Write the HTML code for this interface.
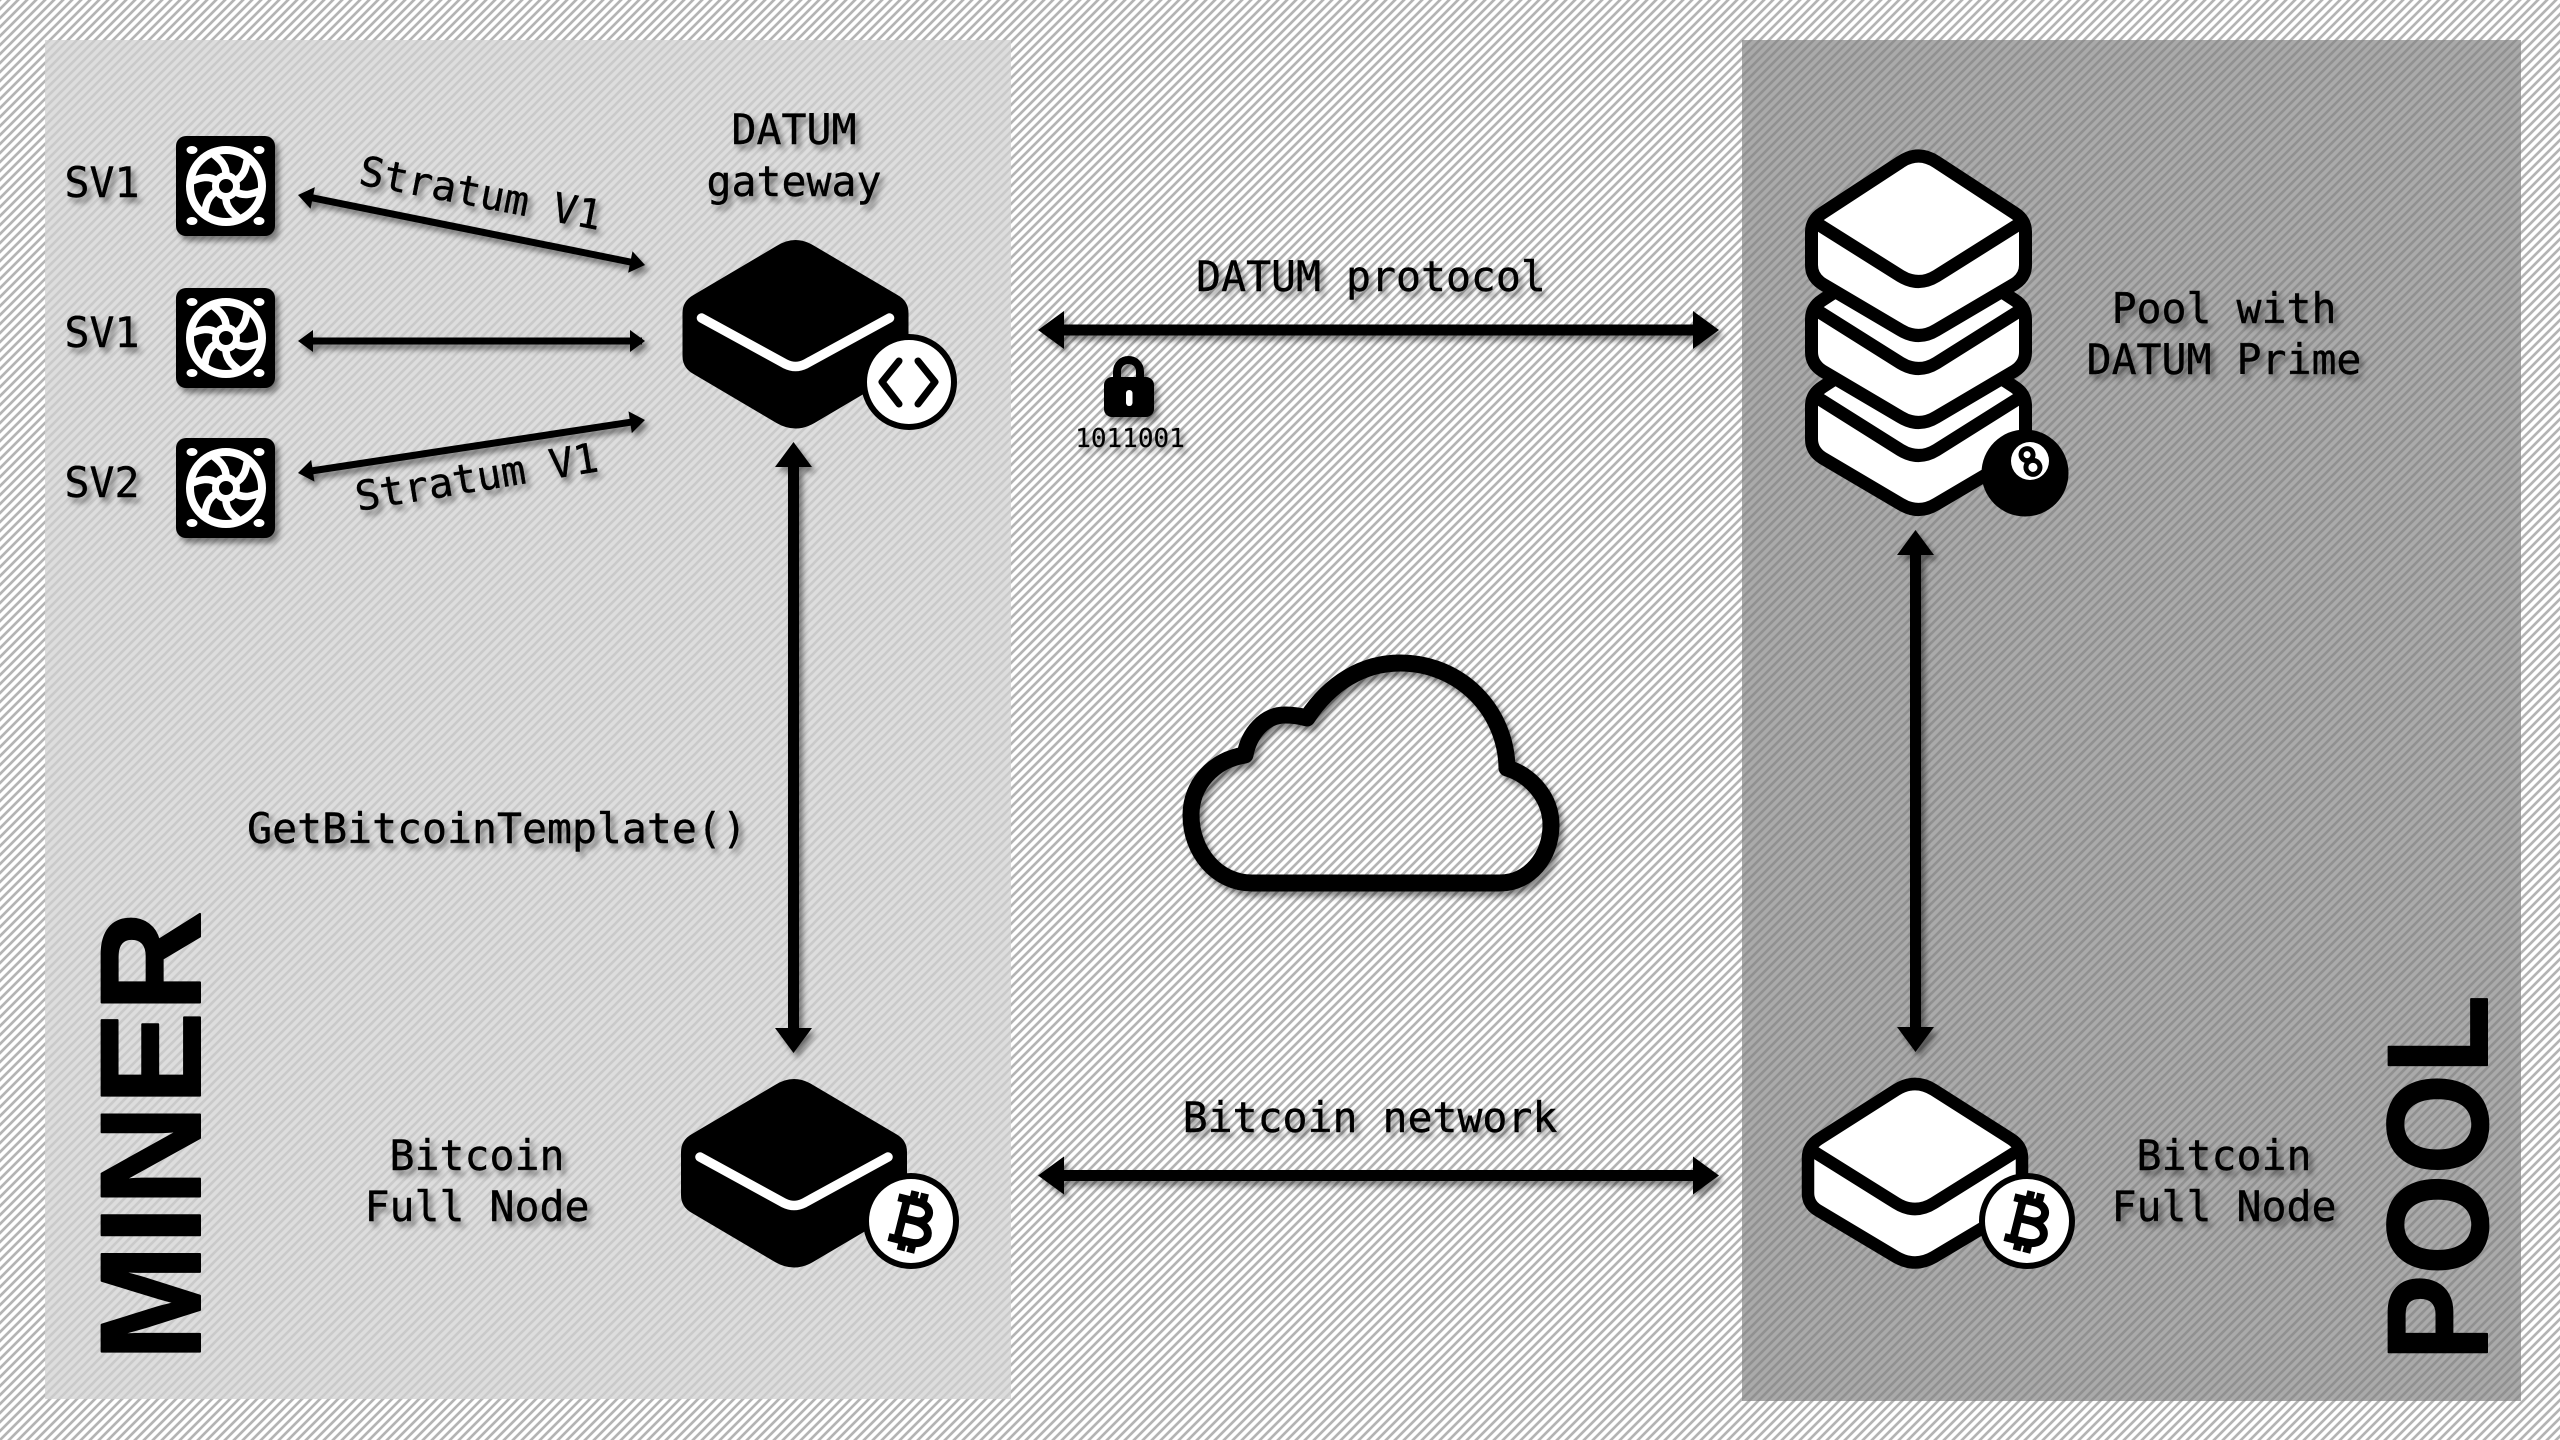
<!DOCTYPE html>
<html><head><meta charset="utf-8">
<style>
html,body{margin:0;padding:0;width:2560px;height:1440px;overflow:hidden;background:#fff}
svg{position:absolute;left:0;top:0}
text{font-family:"DejaVu Sans Mono","Liberation Mono",monospace;font-size:41.500px;fill:#000;stroke:#000;stroke-width:.4px;text-anchor:middle}
.s{filter:drop-shadow(4px 5px 3px rgba(0,0,0,.45))}
.big{font-family:"Liberation Sans",sans-serif;font-weight:bold;font-size:143px;text-anchor:start;stroke-width:2px;stroke-linejoin:round}
</style></head><body>
<svg width="2560" height="1440" viewBox="0 0 2560 1440">
<defs>
<pattern id="st" patternUnits="userSpaceOnUse" width="9" height="9">
<path d="M0 9L9 0M-3 3L3-3M6 12L12 6" stroke="#b4b4b4" stroke-width="2.700" fill="none"/>
</pattern>
<g id="fan">
<rect x="-50" y="-50" width="99" height="100" rx="10" fill="#000"/>
<g fill="#fff"><ellipse cx="-34" cy="-36" rx="5.500" ry="4"/><ellipse cx="33" cy="-36" rx="5.500" ry="4"/><ellipse cx="-34" cy="35" rx="5.500" ry="4"/><ellipse cx="33" cy="35" rx="5.500" ry="4"/></g>
<circle r="36" fill="none" stroke="#fff" stroke-width="8"/>
<g fill="none" stroke="#fff" stroke-width="7.500">
<path d="M0-10C1-22-8-28-14-33"/>
<path d="M0-10C1-22-8-28-14-33" transform="rotate(60)"/>
<path d="M0-10C1-22-8-28-14-33" transform="rotate(120)"/>
<path d="M0-10C1-22-8-28-14-33" transform="rotate(180)"/>
<path d="M0-10C1-22-8-28-14-33" transform="rotate(240)"/>
<path d="M0-10C1-22-8-28-14-33" transform="rotate(300)"/>
</g>
<circle r="10.500" fill="#000" stroke="#fff" stroke-width="7"/>
</g>
<g id="thin">
<rect x="10" y="-3.500" width="334" height="7" fill="#000"/>
</g>
<path id="solidnode" d="M775 1085Q794 1073 813 1085L896 1134Q907 1140 907 1152V1195Q907 1207 896 1213L813 1262Q794 1273 775 1262L692 1213Q681 1207 681 1195V1152Q681 1140 692 1134Z"/>
<g id="btc" fill="none" stroke="#000" stroke-width="8" transform="rotate(14)">
<path d="M-18-20H3C20-20 20-1 3-1H-9M3-1C25-1 25 21 4 21H-18M-9-20V21M-3-30V-20M7-30V-20M-3 21V31M7 21V31"/>
</g>
<path id="lay" d="M-18-58Q0-70 18-58L96-7Q107 0 107 12V45Q107 57 96 64L18 110Q0 121-18 110L-96 64Q-107 57-107 45V12Q-107 0-96-7Z" fill="#fff" stroke="#000" stroke-width="13" stroke-linejoin="round"/>
<path id="chev" d="M-107 0L-18 56Q0 67 18 56L107 0" fill="none" stroke="#000" stroke-width="13"/>
</defs>

<rect width="2560" height="1440" fill="url(#st)"/>
<rect x="45" y="40" width="966" height="1359" fill="#d2d2d2" fill-opacity=".75"/>
<rect x="1742" y="40" width="779" height="1361" fill="#808080" fill-opacity=".67"/>

<!-- fans -->
<g class="s">
<use href="#fan" x="226" y="186"/>
<use href="#fan" x="226" y="338"/>
<use href="#fan" x="226" y="488"/>
</g>
<g class="s">
<text x="102" y="197">SV1</text>
<text x="102" y="347">SV1</text>
<text x="102" y="497">SV2</text>
<text x="794" y="144">DATUM</text>
<text x="794" y="196">gateway</text>
<text x="478" y="207" transform="rotate(10.800 478 207)" style="font-size:40.800px">Stratum V1</text>
<text x="479" y="491" transform="rotate(-9.400 479 491)" style="font-size:40.800px">Stratum V1</text>
<text x="497" y="843">GetBitcoinTemplate()</text>
<text x="477" y="1170">Bitcoin</text>
<text x="477" y="1221">Full Node</text>
<text x="2224" y="1170">Bitcoin</text>
<text x="2224" y="1221">Full Node</text>
<text x="2224" y="323">Pool with</text>
<text x="2224" y="374">DATUM Prime</text>
<text x="1371" y="291">DATUM protocol</text>
<text x="1370" y="1132">Bitcoin network</text>
<text x="1130" y="447" style="font-size:26px;stroke-width:.2px">1011001</text>
</g>

<!-- arrows -->
<g class="s" fill="#000">
<g transform="translate(298 195) rotate(11.400)"><use href="#thin"/><path d="M0 0L15-11V11Z"/><path d="M354 0L339-11V11Z"/></g>
<g transform="translate(298 341)"><use href="#thin"/><path d="M0 0L15-11V11Z"/><path d="M347 0L332-11V11Z"/></g>
<g transform="translate(298 473) rotate(-8.680)"><use href="#thin"/><path d="M0 0L15-11V11Z"/><path d="M351 0L336-11V11Z"/></g>
<rect x="788" y="460" width="11" height="575"/><path d="M793.500 442L812 467H775Z"/><path d="M793.500 1053L812 1028H775Z"/>
<rect x="1910" y="550" width="11" height="485"/><path d="M1915.500 530L1934 555H1897Z"/><path d="M1915.500 1052L1934 1027H1897Z"/>
<rect x="1055" y="324.500" width="650" height="11"/><path d="M1038 330L1064 311V349Z"/><path d="M1719 330L1693 311V349Z"/>
<rect x="1055" y="1170" width="650" height="11"/><path d="M1038 1175.500L1064 1156.500V1194.500Z"/><path d="M1719 1175.500L1693 1156.500V1194.500Z"/>
</g>

<!-- lock -->
<g class="s">
<path d="M1117 385V372C1117 356 1140 356 1140 372V385" fill="none" stroke="#000" stroke-width="8"/>
<rect x="1104" y="377" width="50" height="40" rx="8" fill="#000"/>
<rect x="1126" y="390" width="6.500" height="16" rx="3.200" fill="#fff"/>
</g>

<!-- cloud -->
<path class="s" d="M1252 883C1217 883 1191 852 1191 815C1191 785 1213 760 1245 755C1249 733 1265 715 1285 715C1293 715 1300 716 1307 718C1330 683 1363 663 1400 663C1460 663 1506 710 1507 768C1530 775 1551 797 1551 825C1551 857 1529 883 1500 883Z" fill="none" stroke="#000" stroke-width="17" stroke-linejoin="round"/>

<!-- gateway -->
<g transform="translate(1.500 -839)">
<use href="#solidnode"/>
<path d="M700 1157L784 1203Q794 1208 804 1203L888 1157" fill="none" stroke="#fff" stroke-width="9.500" stroke-linecap="round"/>
</g>
<circle cx="909" cy="382" r="45" fill="#fff" stroke="#000" stroke-width="6"/>
<path d="M899 361L882 382L899 404M918 361L935 382L918 404" fill="none" stroke="#000" stroke-width="7" stroke-linecap="round" stroke-linejoin="round"/>

<!-- miner full node -->
<use href="#solidnode"/>
<path d="M700 1157L784 1203Q794 1208 804 1203L888 1157" fill="none" stroke="#fff" stroke-width="9.500" stroke-linecap="round"/>
<circle cx="911" cy="1221" r="45" fill="#fff" stroke="#000" stroke-width="6"/>
<use href="#btc" x="911" y="1221"/>

<!-- pool full node -->
<path d="M1896 1090Q1915 1078 1934 1090L2011 1139Q2022 1146 2022 1158V1193Q2022 1205 2011 1211L1934 1257Q1915 1268 1896 1257L1819 1211Q1808 1205 1808 1193V1158Q1808 1146 1819 1139Z" fill="#fff" stroke="#000" stroke-width="12.500" stroke-linejoin="round"/>
<path d="M1808 1148L1896 1203Q1915 1215 1934 1203L2022 1148" fill="none" stroke="#000" stroke-width="12.500"/>
<circle cx="2027" cy="1221" r="45" fill="#fff" stroke="#000" stroke-width="6"/>
<use href="#btc" x="2027" y="1221"/>

<!-- pool stack -->
<g transform="translate(1918.500 394)"><use href="#lay"/><use href="#chev"/></g>
<g transform="translate(1918.500 307)"><use href="#lay"/><use href="#chev"/></g>
<g transform="translate(1918.500 220)"><use href="#lay"/><use href="#chev"/></g>
<circle cx="2025" cy="473" r="43.500" fill="#000"/>
<circle cx="2030" cy="461" r="19" fill="#fff"/>
<g transform="rotate(-25 2030 461)" fill="none" stroke="#000" stroke-width="5"><circle cx="2030" cy="454" r="6"/><circle cx="2030" cy="468" r="7"/></g>

<!-- big labels -->
<text class="big" transform="translate(200 1361) rotate(-90)" textLength="450" lengthAdjust="spacingAndGlyphs">MINER</text>
<text class="big" transform="translate(2487 1361) rotate(-90)" textLength="366" lengthAdjust="spacingAndGlyphs">POOL</text>
</svg>
</body></html>
